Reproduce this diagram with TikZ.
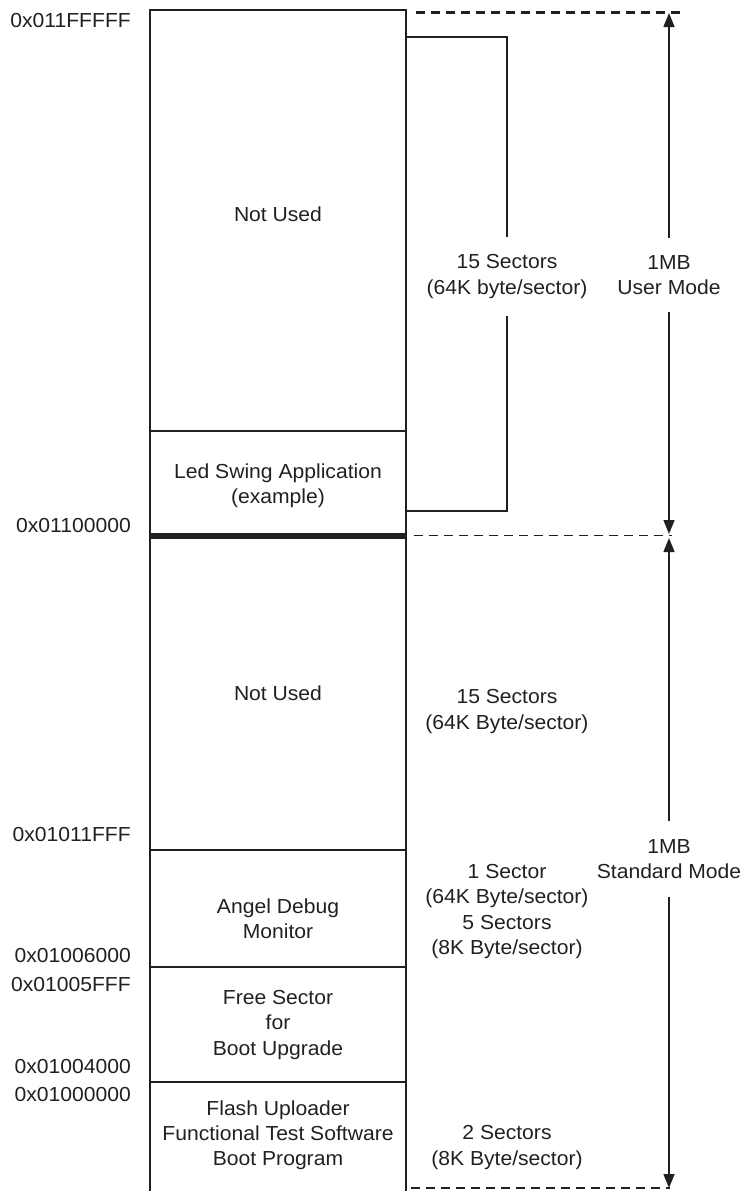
\documentclass[tikz,border=0pt]{standalone}
\usepackage{fontspec}
\setmainfont{Liberation Sans}[FakeStretch=1.04]
\usetikzlibrary{arrows.meta}
\definecolor{ink}{HTML}{231F20}
\begin{document}
\begin{tikzpicture}[x=1pt,y=-1pt,
  every node/.style={text=ink},
  txt/.style={font=\fontsize{20.3}{25.2}\selectfont, align=center, inner sep=0pt},
  addr/.style={font=\fontsize{20.3}{25.2}\selectfont, anchor=east, inner sep=0pt},
  gapnode/.style={txt, minimum height=#1},
  wall/.style={draw=ink, line width=2.4pt},
  part/.style={draw=ink, line width=2pt},
  thinline/.style={draw=ink, line width=1.4pt},
  dim/.style={draw=ink, line width=1.5pt, -{Triangle[length=14pt,width=11pt]}},
  guide/.style={draw=ink, line width=2.2pt, dash pattern=on 9pt off 6pt}]
\useasboundingbox (0,0) rectangle (745,1191);

% memory column
\draw[wall] (150,1195) -- (150,10) -- (406,10) -- (406,1195);
\draw[part] (150,431) -- (406,431);
\draw[part] (150,850) -- (406,850);
\draw[part] (150,967) -- (406,967);
\draw[part] (150,1082) -- (406,1082);
\draw[draw=ink, line width=6pt] (150,536) -- (406,536);

% addresses
\node[addr] (a1) at (131,21) {0x011FFFFF};
\node[addr] (a2) at (131,526) {0x01100000};
\node[addr] (a3) at (131,835) {0x01011FFF};
\node[addr] (a4) at (131,955) {0x01006000};
\node[addr] (a5) at (131,984) {0x01005FFF};
\node[addr] (a6) at (131,1066) {0x01004000};
\node[addr] (a7) at (131,1094) {0x01000000};

% region texts
\node[txt] (nu1) at (278,214) {Not Used};
\node[txt] (led) at (278,485.5) {Led Swing Application\\(example)};
\node[txt] (nu2) at (278,693) {Not Used};
\node[txt] (adm) at (278,918.5) {Angel Debug\\Monitor};
\node[txt] (fsb) at (278,1025) {Free Sector\\for\\Boot Upgrade};
\node[txt] (fup) at (278,1135) {Flash Uploader\\Functional Test Software\\Boot Program};

% sector texts
\node[gapnode=79pt] (s1) at (507,276.5) {15 Sectors\\(64K byte/sector)};
\node[txt] (s2) at (507,711.5) {15 Sectors\\(64K Byte/sector)};
\node[txt] (s3) at (507,911.5) {1 Sector\\(64K Byte/sector)\\5 Sectors\\(8K Byte/sector)};
\node[txt] (s4) at (507,1147.5) {2 Sectors\\(8K Byte/sector)};

% size texts
\node[gapnode=74pt] (um) at (669,275) {1MB\\User Mode};
\node[gapnode=76pt] (sm) at (669,859) {1MB\\Standard Mode};

% bracket for user sectors
\coordinate (brt) at (406,37);
\coordinate (brb) at (406,511);
\draw[thinline] (s1.north) |- (brt);
\draw[thinline] (s1.south) |- (brb);

% guide lines
\coordinate (g1a) at (416,12.5);
\coordinate (g1b) at (683,12.5);
\coordinate (g2a) at (414,535.5);
\coordinate (g2b) at (672,535.5);
\coordinate (g3a) at (411,1188);
\coordinate (g3b) at (670,1188);
\draw[guide] (g1a) -- (g1b);
\draw[guide, line width=1.8pt] (g2a) -- (g2b);
\draw[guide, line width=1.8pt] (g3a) -- (g3b);

% dimension arrows
\coordinate (umt) at (669,13);
\coordinate (umb) at (669,534);
\coordinate (smt) at (669,538);
\coordinate (smb) at (669,1188);
\draw[dim] (um.north) -- (umt);
\draw[dim] (um.south) -- (umb);
\draw[dim] (sm.north) -- (smt);
\draw[dim] (sm.south) -- (smb);
\end{tikzpicture}
\end{document}
